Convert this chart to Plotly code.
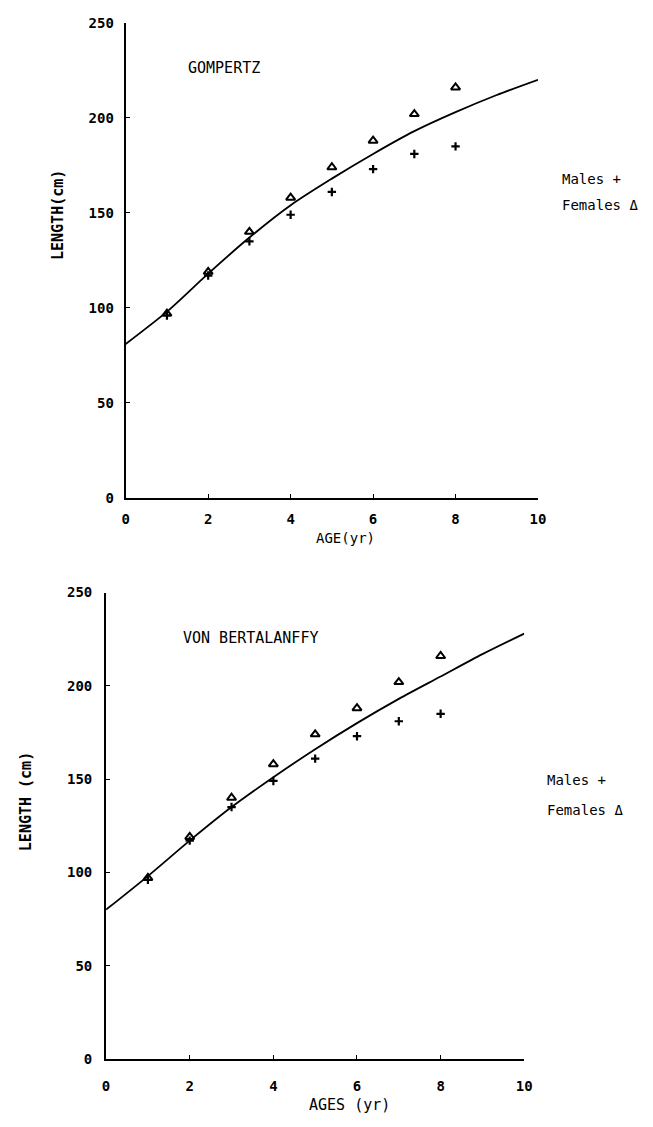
import plotly.graph_objects as go

# Observed mean length (cm) at age, same observations in both panels
ages = [1, 2, 3, 4, 5, 6, 7, 8]
females_len = [97, 119, 140, 158, 174, 188, 202, 216]
males_len = [96, 117, 135, 149, 161, 173, 181, 185]

# Fitted growth curves (cm) at ages 0..10
curve_ages = [0, 1, 2, 3, 4, 5, 6, 7, 8, 9, 10]
gompertz_len = [81, 98, 118, 137, 154, 168, 181, 193, 203, 212, 220]
bertalanffy_len = [80, 98, 117, 135, 151, 166, 180, 193, 205, 217, 228]

x_ticks = [0, 2, 4, 6, 8, 10]
y_ticks = [0, 50, 100, 150, 200, 250]

W, H = 653, 1127
FONT = "DejaVu Sans Mono"


def px(x):
    return x / W


def py(y):
    return 1 - y / H


fig = go.Figure()

panels = [
    ("x", "y", gompertz_len),
    ("x2", "y2", bertalanffy_len),
]

for xa, ya, curve in panels:
    fig.add_trace(go.Scatter(
        x=curve_ages, y=curve, xaxis=xa, yaxis=ya, mode="lines",
        line=dict(color="black", width=1.8, shape="spline", smoothing=0.8),
        showlegend=False, hoverinfo="skip",
    ))
    fig.add_trace(go.Scatter(
        x=ages, y=females_len, xaxis=xa, yaxis=ya, mode="markers",
        marker=dict(symbol="triangle-up-open", size=8, color="black",
                    line=dict(width=2, color="black")),
        showlegend=False,
    ))
    fig.add_trace(go.Scatter(
        x=ages, y=males_len, xaxis=xa, yaxis=ya, mode="markers",
        marker=dict(symbol="cross-thin", size=6, color="black",
                    line=dict(width=2.2, color="black")),
        showlegend=False,
    ))

axis_common = dict(
    showgrid=False, zeroline=False, showline=True, linecolor="black",
    linewidth=2, ticks="inside", ticklen=4, tickwidth=1.2, tickcolor="black",
    tickfont=dict(family=FONT, size=14, color="black", weight="bold"),
    mirror=False,
)

fig.update_layout(
    width=W, height=H,
    margin=dict(l=0, r=0, t=0, b=0),
    paper_bgcolor="white", plot_bgcolor="white",
    xaxis=dict(axis_common, domain=[px(124), px(544)], range=[0, 10],
               tickvals=x_ticks, ticktext=[str(v) for v in x_ticks],
               anchor="y", ticklabelstandoff=7),
    yaxis=dict(axis_common, domain=[py(497), py(15)], range=[0, 250],
               tickvals=y_ticks, ticktext=[str(v) for v in y_ticks],
               anchor="x", ticklabelstandoff=7),
    xaxis2=dict(axis_common, domain=[px(104), px(530)], range=[0, 10],
                tickvals=x_ticks, ticktext=[str(v) for v in x_ticks],
                anchor="y2", ticklabelstandoff=13),
    yaxis2=dict(axis_common, domain=[py(1066), py(593)], range=[0, 250],
                tickvals=y_ticks, ticktext=[str(v) for v in y_ticks],
                anchor="x2", ticklabelstandoff=9),
)


def note(text, x, y, size=15, angle=0, anchor="center", weight="normal"):
    fig.add_annotation(
        text=text, x=px(x), y=py(y), xref="paper", yref="paper",
        showarrow=False, textangle=angle, xanchor=anchor, yanchor="middle",
        font=dict(family=FONT, size=size, color="black", weight=weight),
    )


# Top panel texts
note("GOMPERTZ", 185, 61, anchor="left")
note("LENGTH(cm)", 55, 210, angle=-90, weight="bold")
note("AGE(yr)", 348, 538, size=14)
note("Males +", 566, 173, size=14, anchor="left")
note("Females Δ", 566, 200, size=14, anchor="left")

# Bottom panel texts
note("VON BERTALANFFY", 180, 639, anchor="left")
note("LENGTH (cm)", 22, 805, angle=-90, weight="bold")
note("AGES (yr)", 352, 1113)
note("Males +", 551, 783, size=14, anchor="left")
note("Females Δ", 551, 814, size=14, anchor="left")

fig.write_html("out.html")
